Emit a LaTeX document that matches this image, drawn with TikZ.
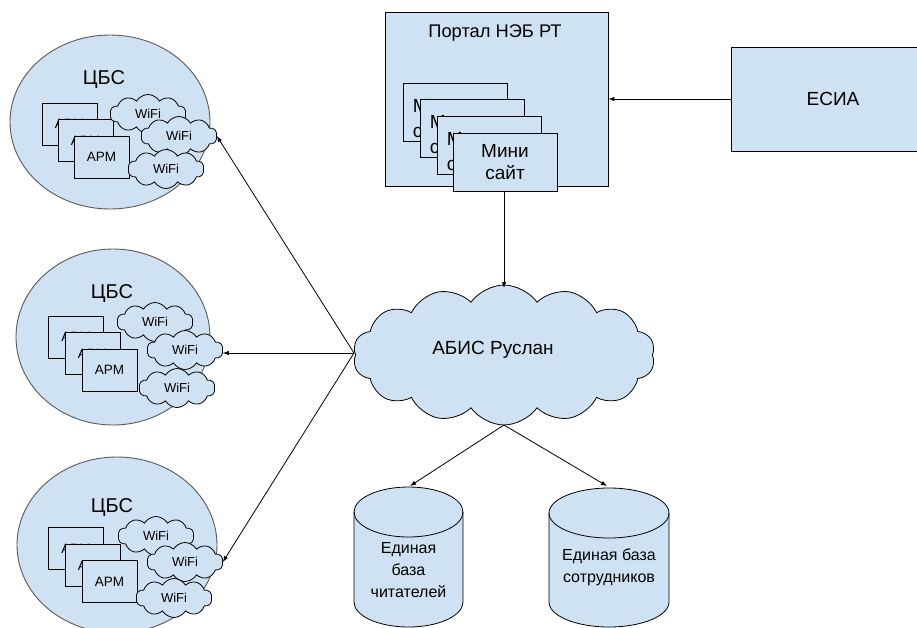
\documentclass[tikz,border=0pt]{standalone}
\usepackage{fontspec}
\setmainfont{Liberation Sans}
\usetikzlibrary{shapes.symbols,shapes.geometric,arrows.meta}
\definecolor{lb}{HTML}{CFE2F3}
\definecolor{eg}{HTML}{595959}
\tikzset{
  cbs/.style={ellipse,draw=eg,fill=lb,line width=0.9pt,inner sep=0pt},
  armbox/.style={draw=black,fill=lb,line width=0.8pt,minimum width=55pt,minimum height=42pt,inner sep=0pt,font=\fontsize{13.5}{15}\selectfont},
  wifi/.style={cloud,cloud puffs=10,cloud puff arc=120,cloud ignores aspect,draw=black,fill=lb,line width=0.8pt,minimum width=76pt,minimum height=39pt,inner sep=0pt,font=\fontsize{13}{15}\selectfont},
  bigbox/.style={draw=black,fill=lb,line width=0.8pt,inner sep=0pt},
  minib/.style={draw=black,fill=lb,line width=0.8pt,minimum width=104pt,minimum height=58pt,inner sep=0pt,font=\fontsize{19}{22}\selectfont},
  lbl/.style={inner sep=0pt},
  backtxt/.style={inner sep=0pt,anchor=base west,font=\fontsize{19}{22}\selectfont},
  conn/.style={line width=0.8pt,-{Latex[length=6pt,width=4.5pt]}},
  dbase/.style={draw=black,fill=lb,line width=0.8pt},
}
\begin{document}
\begin{tikzpicture}[x=1pt,y=-1pt]
\useasboundingbox (0,0) rectangle (917,627);

% ---------- top CBS ----------
\node[cbs,minimum width=200pt,minimum height=174pt] (e1) at (110,122) {};
\node[lbl,font=\fontsize{20}{22}\selectfont] (t1) at (104,80) {ЦБС};
\node[armbox] (a11) at (69.5,124) {АРМ};
\node[armbox] (a12) at (85.5,140.5) {АРМ};
\node[armbox] (a13) at (101.5,157) {АРМ};
\node[wifi] (w11) at (148,114) {WiFi};
\node[wifi] (w12) at (179,136) {WiFi};
\node[wifi] (w13) at (166,169) {WiFi};

% ---------- middle CBS ----------
\node[cbs,minimum width=194pt,minimum height=176pt] (e2) at (113,337) {};
\node[lbl,font=\fontsize{20}{22}\selectfont] (t2) at (112,294) {ЦБС};
\node[armbox] (a21) at (76,337) {АРМ};
\node[armbox] (a22) at (92.5,353.5) {АРМ};
\node[armbox] (a23) at (109.5,370) {АРМ};
\node[wifi] (w21) at (155,322) {WiFi};
\node[wifi] (w22) at (185,350) {WiFi};
\node[wifi] (w23) at (177,388) {WiFi};

% ---------- bottom CBS ----------
\node[cbs,minimum width=200pt,minimum height=176pt] (e3) at (117,545) {};
\node[lbl,font=\fontsize{20}{22}\selectfont] (t3) at (112,507) {ЦБС};
\node[armbox] (a31) at (76,548.5) {АРМ};
\node[armbox] (a32) at (92.5,565.5) {АРМ};
\node[armbox] (a33) at (109.5,581.5) {АРМ};
\node[wifi] (w31) at (156,536) {WiFi};
\node[wifi] (w32) at (185,562) {WiFi};
\node[wifi] (w33) at (174,598) {WiFi};

% ---------- Portal ----------
\node[bigbox,minimum width=223pt,minimum height=174pt] (portal) at (496.5,99) {};
\node[lbl,font=\fontsize{18.3}{21}\selectfont] (pt) at (495,33) {Портал НЭБ РТ};
\node[minib] (m1) at (455,112) {};
\node[backtxt] (m1a) at ([xshift=10pt,yshift=-30pt]m1.north west) {М};
\node[backtxt] (m1b) at ([xshift=10pt,yshift=-55pt]m1.north west) {с};
\node[minib] (m2) at (472,128) {};
\node[backtxt] (m2a) at ([xshift=10pt,yshift=-30pt]m2.north west) {М};
\node[backtxt] (m2b) at ([xshift=10pt,yshift=-55pt]m2.north west) {с};
\node[minib] (m3) at (489,145) {};
\node[backtxt] (m3a) at ([xshift=10pt,yshift=-30pt]m3.north west) {М};
\node[backtxt] (m3b) at ([xshift=10pt,yshift=-55pt]m3.north west) {с};
\node[minib,align=center] (m4) at (505,162) {Мини\\сайт};

% ---------- ESIA ----------
\node[bigbox,minimum width=204pt,minimum height=104pt,font=\fontsize{19}{22}\selectfont] (esia) at (833,99) {ЕСИА};

% ---------- ABIS cloud ----------
\node[cloud,cloud puffs=14,cloud puff arc=110,cloud ignores aspect,draw=black,fill=lb,line width=0.8pt,
      minimum width=302pt,minimum height=140pt,inner sep=0pt] (abis) at (504,355) {};
\node[lbl,font=\fontsize{19}{22}\selectfont] (abist) at (493,350) {АБИС Руслан};

% ---------- databases ----------
\path[dbase] (354,512) -- (354,602) arc[start angle=180,end angle=360,x radius=54.5pt,y radius=25pt]
  -- (463,512) arc[start angle=0,end angle=180,x radius=54.5pt,y radius=25pt] -- cycle;
\draw[line width=0.8pt] (354,512) arc[start angle=180,end angle=360,x radius=54.5pt,y radius=25pt];
\node[lbl,align=center,font=\fontsize{16}{22}\selectfont] (db1) at (408.5,570) {Единая\\база\\читателей};
\coordinate (db1top) at (410,486);

\path[dbase] (549,513) -- (549,602) arc[start angle=180,end angle=360,x radius=60pt,y radius=25pt]
  -- (669,513) arc[start angle=0,end angle=180,x radius=60pt,y radius=25pt] -- cycle;
\draw[line width=0.8pt] (549,513) arc[start angle=180,end angle=360,x radius=60pt,y radius=25pt];
\node[lbl,align=center,font=\fontsize{16}{22}\selectfont] (db2) at (609,567) {Единая база\\сотрудников};
\coordinate (db2top) at (607,486);

% ---------- connectors ----------
\coordinate (abisw) at (354,353);
\coordinate (abiss) at (504,425);
\draw[conn] (esia.west) -- (portal.east);
\draw[conn] (m4.south -| 504,0) -- (504,288);
\draw[conn] (abisw) -- (w12.east);
\draw[conn] (abisw) -- (w22.east |- abisw);
\draw[conn] (abisw) -- (w32.east);
\draw[conn] (abiss) -- (db1top);
\draw[conn] (abiss) -- (db2top);
\end{tikzpicture}
\end{document}
